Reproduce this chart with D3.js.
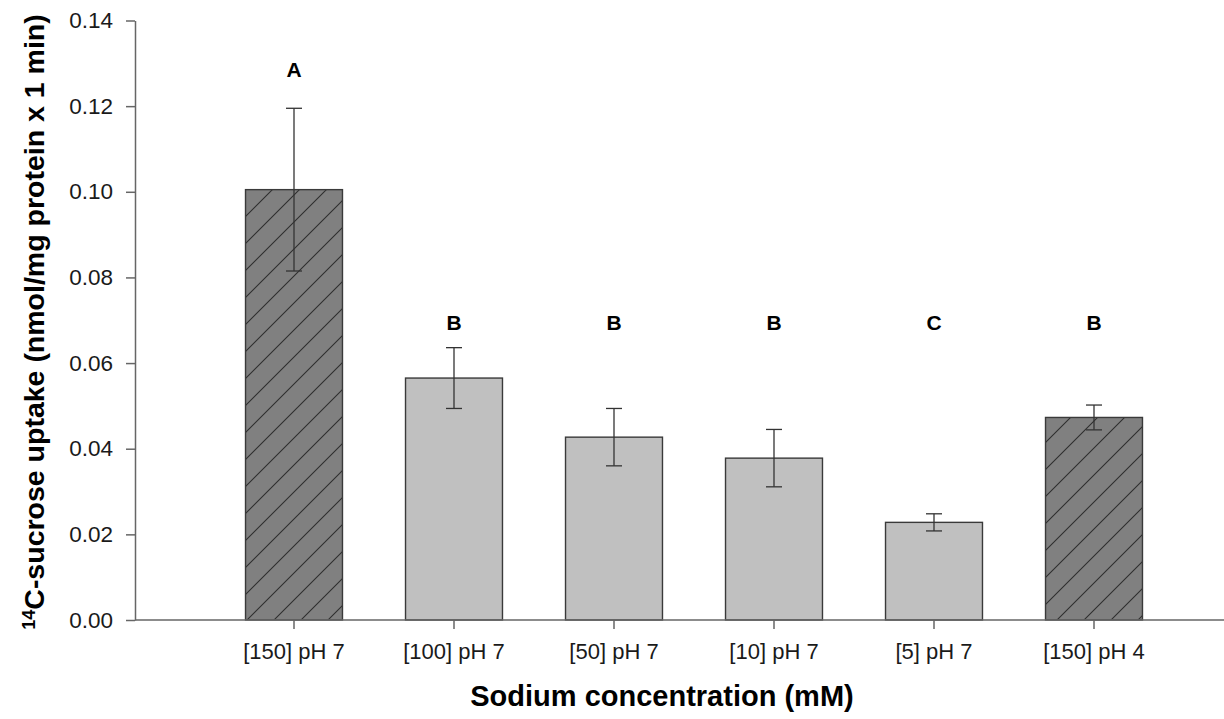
<!DOCTYPE html>
<html>
<head>
<meta charset="utf-8">
<script src="https://cdn.jsdelivr.net/npm/d3@7/dist/d3.min.js"></script>
<style>
  html, body { margin: 0; padding: 0; background: #fff; }
  svg { display: block; font-family: "Liberation Sans", Arial, sans-serif; }
</style>
</head>
<body>
<svg id="chart" width="1224" height="719"></svg>
<script>
// Sucrose uptake by sodium concentration / pH
const categories = ["[150] pH 7", "[100] pH 7", "[50] pH 7", "[10] pH 7", "[5] pH 7", "[150] pH 4"];
const uptake     = [0.1005, 0.0565, 0.0427, 0.0378, 0.0228, 0.0473];
const stdError   = [0.0190, 0.0071, 0.0067, 0.0067, 0.0020, 0.0029];
const hatched    = [true, false, false, false, false, true];
const groupLetters = ["A", "B", "B", "B", "C", "B"];
const letterLevel  = [0.1268, 0.0678, 0.0678, 0.0678, 0.0678, 0.0678];
const yTicks = [0.00, 0.02, 0.04, 0.06, 0.08, 0.10, 0.12, 0.14];

const svg = d3.select("#chart");
const axisX = 135, baseY = 620, topY = 20.5;

const x = d3.scaleBand()
  .domain(categories)
  .range([214, 1174])
  .paddingInner(0.394)
  .paddingOuter(0.197);

const y = d3.scaleLinear().domain([0, 0.14]).range([baseY, topY]);

// diagonal hatch for the dark bars
const defs = svg.append("defs");
const pat = defs.append("pattern")
  .attr("id", "hatch")
  .attr("patternUnits", "userSpaceOnUse")
  .attr("width", 27).attr("height", 27)
  .attr("patternTransform", "translate(0,3)");
pat.append("rect").attr("width", 27).attr("height", 27).attr("fill", "#808080");
pat.append("path")
  .attr("d", "M-2,29 L29,-2 M-29,29 L2,-2 M25,29 L56,-2")
  .attr("stroke", "#2e2e2e").attr("stroke-width", 1.1).attr("fill", "none");

// bars
svg.append("g").selectAll("rect")
  .data(categories)
  .join("rect")
  .attr("x", d => x(d))
  .attr("y", (d, i) => y(uptake[i]))
  .attr("width", x.bandwidth())
  .attr("height", (d, i) => baseY - y(uptake[i]))
  .attr("fill", (d, i) => hatched[i] ? "url(#hatch)" : "#c0c0c0")
  .attr("stroke", "#3a3a3a")
  .attr("stroke-width", 1.4);

// error bars
const capHalf = 8;
const err = svg.append("g").attr("stroke", "#333").attr("stroke-width", 1.3).attr("fill", "none");
categories.forEach((c, i) => {
  const cx = x(c) + x.bandwidth() / 2;
  const hi = y(uptake[i] + stdError[i]), lo = y(uptake[i] - stdError[i]);
  err.append("line").attr("x1", cx).attr("x2", cx).attr("y1", hi).attr("y2", lo);
  err.append("line").attr("x1", cx - capHalf).attr("x2", cx + capHalf).attr("y1", hi).attr("y2", hi);
  err.append("line").attr("x1", cx - capHalf).attr("x2", cx + capHalf).attr("y1", lo).attr("y2", lo);
});

// significance letters
svg.append("g").selectAll("text")
  .data(categories)
  .join("text")
  .attr("x", d => x(d) + x.bandwidth() / 2)
  .attr("y", (d, i) => y(letterLevel[i]))
  .attr("text-anchor", "middle")
  .attr("font-size", 21)
  .attr("font-weight", "bold")
  .attr("fill", "#000")
  .text((d, i) => groupLetters[i]);

// y axis
const yAxis = svg.append("g")
  .attr("transform", `translate(${axisX},0)`)
  .call(d3.axisLeft(y).tickValues(yTicks).tickFormat(d3.format(".2f")).tickSize(9).tickSizeOuter(0).tickPadding(13));
yAxis.selectAll("path, line").attr("stroke", "#666").attr("stroke-width", 1.5);
yAxis.selectAll("text").attr("font-size", 22.5).attr("fill", "#1a1a1a")
  .attr("font-family", "'Liberation Sans', Arial, sans-serif");

// x axis
const xAxis = svg.append("g")
  .attr("transform", `translate(0,${baseY})`)
  .call(d3.axisBottom(x).tickSize(9).tickSizeOuter(0).tickPadding(14));
xAxis.select(".domain").attr("d", `M${axisX},0H1224`);
xAxis.selectAll("path, line").attr("stroke", "#666").attr("stroke-width", 1.5);
xAxis.selectAll("text").attr("font-size", 22).attr("fill", "#1a1a1a")
  .attr("font-family", "'Liberation Sans', Arial, sans-serif");

// axis titles
svg.append("text")
  .attr("x", 662).attr("y", 706)
  .attr("text-anchor", "middle")
  .attr("font-size", 29).attr("font-weight", "bold").attr("fill", "#000")
  .text("Sodium concentration (mM)");

const yt = svg.append("text")
  .attr("transform", "translate(44,322) rotate(-90)")
  .attr("text-anchor", "middle")
  .attr("font-size", 28.5).attr("font-weight", "bold").attr("fill", "#000");
yt.append("tspan").attr("font-size", 18).attr("dy", -9).text("14");
yt.append("tspan").attr("dy", 9).text("C-sucrose uptake (nmol/mg protein x 1 min)");
</script>
</body>
</html>
